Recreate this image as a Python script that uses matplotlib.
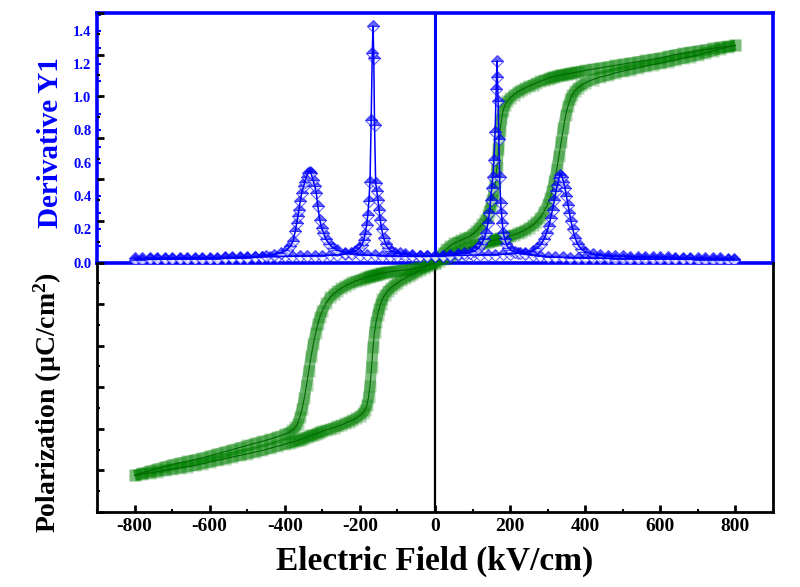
import matplotlib
matplotlib.use('Agg')
import matplotlib.pyplot as plt
from matplotlib.ticker import MultipleLocator, FormatStrFormatter

# ---------------- data ----------------
# field grid (kV/cm) for the P-E loop branches
field = [-800, -780, -760, -740, -720, -700, -680, -660, -640, -620, -600, -580, -560, -540, -520,
         -500, -480, -460, -440, -420, -400, -390, -380, -372, -366, -360, -354, -348, -342, -336,
         -330, -324, -318, -312, -306, -300, -290, -280, -270, -260, -250, -240, -230, -220, -210,
         -200, -192, -186, -181, -177, -173, -169, -165, -161, -157, -153, -149, -145, -140, -134,
         -126, -118, -110, -100, -90, -80, -70, -60, -50, -40, -30, -20, -10, 0,
         10, 20, 30, 40, 50, 60, 70, 80, 90, 100, 110, 118, 126, 134, 140,
         145, 149, 153, 157, 161, 165, 169, 173, 177, 181, 186, 192, 200, 210, 220,
         230, 240, 250, 260, 270, 280, 290, 300, 306, 312, 318, 324, 330, 336, 342,
         348, 354, 360, 366, 372, 380, 390, 400, 420, 440, 460, 480, 500, 520, 540,
         560, 580, 600, 620, 640, 660, 680, 700, 720, 740, 760, 780, 800]

# ascending branch (-800 -> +800)
pol_up = [-25.6, -25.45, -25.3, -25.15, -25.0, -24.85, -24.7, -24.55, -24.4, -24.2, -24.0, -23.8, -23.6, -23.4, -23.2,
          -23.0, -22.8, -22.6, -22.35, -22.1, -21.85, -21.7, -21.6, -21.5, -21.4, -21.3, -21.2, -21.1, -21.0, -20.9,
          -20.8, -20.7, -20.6, -20.5, -20.4, -20.3, -20.15, -20.0, -19.85, -19.7, -19.55, -19.35, -19.15, -18.95, -18.7,
          -18.4, -18.1, -17.7, -17.1, -16.2, -14.8, -12.6, -10.2, -8.4, -7.2, -6.3, -5.6, -5.0, -4.4, -3.9,
          -3.4, -3.05, -2.75, -2.45, -2.15, -1.9, -1.65, -1.4, -1.15, -0.9, -0.65, -0.4, -0.2, 0.0,
          0.2, 0.4, 0.6, 0.8, 1.0, 1.2, 1.4, 1.6, 1.8, 1.95, 2.1, 2.2, 2.3, 2.4, 2.5,
          2.55, 2.6, 2.65, 2.7, 2.75, 2.8, 2.85, 2.9, 2.95, 3.0, 3.05, 3.1, 3.2, 3.35, 3.5,
          3.7, 3.9, 4.2, 4.5, 4.9, 5.4, 6.1, 7.0, 7.7, 8.6, 9.8, 11.2, 12.8, 14.5, 16.2,
          17.7, 18.8, 19.6, 20.2, 20.6, 21.0, 21.3, 21.6, 22.0, 22.3, 22.5, 22.8, 23.0, 23.2, 23.4,
          23.6, 23.8, 23.95, 24.15, 24.35, 24.55, 24.75, 24.95, 25.2, 25.45, 25.7, 25.9, 26.1]

# descending branch (+800 -> -800), listed on the same field grid
pol_down = [-25.6, -25.3, -25.05, -24.8, -24.55, -24.3, -24.1, -23.9, -23.7, -23.5, -23.25, -23.0, -22.75, -22.5, -22.25,
            -22.0, -21.75, -21.5, -21.25, -20.95, -20.65, -20.45, -20.2, -19.8, -19.4, -18.6, -17.6, -16.3, -14.7, -13.0,
            -11.3, -9.8, -8.5, -7.4, -6.5, -5.8, -4.9, -4.2, -3.8, -3.4, -3.1, -2.85, -2.6, -2.4, -2.2,
            -2.05, -1.95, -1.85, -1.75, -1.7, -1.65, -1.6, -1.55, -1.5, -1.45, -1.4, -1.35, -1.3, -1.25, -1.2,
            -1.15, -1.1, -1.05, -1.0, -0.95, -0.9, -0.85, -0.75, -0.65, -0.55, -0.45, -0.3, -0.15, 0.0,
            0.5, 1.1, 1.6, 2.0, 2.3, 2.5, 2.7, 2.9, 3.1, 3.4, 3.8, 4.2, 4.6, 5.1, 5.6,
            6.2, 6.8, 7.5, 8.4, 9.7, 11.5, 13.7, 15.8, 17.2, 18.2, 18.9, 19.4, 19.8, 20.2, 20.5,
            20.75, 21.0, 21.2, 21.4, 21.6, 21.8, 21.95, 22.1, 22.2, 22.3, 22.35, 22.4, 22.5, 22.55, 22.6,
            22.65, 22.7, 22.75, 22.8, 22.85, 22.9, 23.0, 23.1, 23.25, 23.4, 23.55, 23.7, 23.85, 24.0, 24.15,
            24.3, 24.45, 24.6, 24.8, 25.0, 25.15, 25.3, 25.45, 25.6, 25.75, 25.9, 26.0, 26.1]

# derivative of the ascending branch
deriv_up_field = [-800, -780, -760, -740, -720, -700, -680, -660, -640, -620, -600, -580, -560, -540, -520,
                  -500, -480, -460, -440, -420, -400, -380, -360, -340, -320, -300, -280, -260, -240, -225,
                  -212, -202, -195, -190, -186, -182, -179, -176, -173, -170, -167, -165, -163, -161, -158,
                  -155, -152, -149, -146, -142, -137, -131, -124, -116, -106, -94, -80, -60, -40, -20,
                  0, 20, 40, 60, 80, 100, 120, 140, 160, 180, 200, 220, 240, 260, 272,
                  282, 290, 297, 303, 308, 313, 318, 322, 326, 330, 334, 338, 342, 346, 350,
                  354, 358, 362, 367, 373, 380, 390, 400, 420, 440, 460, 480, 500, 520, 540,
                  560, 580, 600, 620, 640, 660, 680, 700, 720, 740, 760, 780, 797]
deriv_up = [0.025, 0.025, 0.026, 0.026, 0.027, 0.027, 0.028, 0.028, 0.029, 0.029, 0.030, 0.030, 0.031, 0.031, 0.032,
            0.032, 0.033, 0.034, 0.035, 0.036, 0.037, 0.038, 0.039, 0.040, 0.041, 0.042, 0.044, 0.046, 0.050, 0.058,
            0.068, 0.085, 0.105, 0.135, 0.175, 0.225, 0.285, 0.375, 0.49, 0.86, 1.27, 1.43, 1.24, 0.83, 0.48,
            0.43, 0.38, 0.32, 0.26, 0.20, 0.15, 0.11, 0.085, 0.07, 0.06, 0.055, 0.05, 0.045, 0.042, 0.040,
            0.040, 0.041, 0.042, 0.043, 0.044, 0.045, 0.046, 0.047, 0.048, 0.050, 0.052, 0.055, 0.060, 0.072, 0.088,
            0.11, 0.14, 0.18, 0.22, 0.27, 0.32, 0.38, 0.43, 0.47, 0.51, 0.53, 0.52, 0.49, 0.45, 0.40,
            0.35, 0.30, 0.25, 0.20, 0.15, 0.11, 0.08, 0.065, 0.050, 0.045, 0.042, 0.040, 0.038, 0.036, 0.035,
            0.034, 0.033, 0.032, 0.031, 0.030, 0.029, 0.028, 0.027, 0.026, 0.025, 0.025, 0.024, 0.024]

# derivative of the descending branch
deriv_down_field = [-800, -780, -760, -740, -720, -700, -680, -660, -640, -620, -600, -580, -560, -540, -520,
                    -500, -480, -460, -450, -430, -410, -395, -385, -378, -372, -368, -365, -362, -359, -355,
                    -350, -346, -342, -338, -334, -330, -325, -320, -316, -312, -307, -302, -297, -290, -281,
                    -272, -260, -240, -220, -200, -180, -160, -140, -120, -100, -80, -60, -40, -20, 0,
                    20, 40, 60, 78, 92, 105, 115, 123, 130, 136, 141, 145, 148, 151, 154,
                    157, 160, 163, 165, 166, 168, 170, 172, 175, 177, 179, 182, 186, 190, 195,
                    202, 212, 225, 240, 260, 280, 300, 320, 340, 360, 380, 400, 420, 440, 460,
                    480, 500, 520, 540, 560, 580, 600, 620, 640, 660, 680, 700, 720, 740, 760, 780, 797]
deriv_down = [0.018, 0.018, 0.019, 0.019, 0.020, 0.020, 0.021, 0.021, 0.022, 0.022, 0.023, 0.024, 0.025, 0.026, 0.027,
              0.029, 0.031, 0.035, 0.040, 0.048, 0.060, 0.075, 0.10, 0.13, 0.19, 0.24, 0.28, 0.32, 0.37, 0.42,
              0.46, 0.49, 0.52, 0.54, 0.55, 0.54, 0.50, 0.46, 0.42, 0.34, 0.26, 0.21, 0.18, 0.14, 0.11,
              0.09, 0.075, 0.06, 0.052, 0.048, 0.045, 0.043, 0.041, 0.040, 0.039, 0.038, 0.037, 0.037, 0.037, 0.038,
              0.040, 0.045, 0.050, 0.055, 0.060, 0.070, 0.085, 0.11, 0.14, 0.18, 0.24, 0.30, 0.38, 0.45, 0.52,
              0.62, 0.79, 1.05, 1.22, 1.12, 0.98, 0.75, 0.52, 0.36, 0.30, 0.24, 0.18, 0.14, 0.11, 0.09,
              0.075, 0.065, 0.055, 0.050, 0.045, 0.040, 0.036, 0.033, 0.031, 0.030, 0.029, 0.028, 0.027, 0.026, 0.025,
              0.024, 0.023, 0.023, 0.022, 0.022, 0.021, 0.021, 0.020, 0.020, 0.019, 0.019, 0.018, 0.018, 0.018, 0.017, 0.017, 0.017]

x_ticks = [-800, -600, -400, -200, 0, 200, 400, 600, 800]
deriv_ticks = [0.0, 0.2, 0.4, 0.6, 0.8, 1.0, 1.2, 1.4]

# ---------------- figure ----------------
plt.rcParams['font.family'] = ['Liberation Serif', 'DejaVu Serif']
plt.rcParams['font.weight'] = 'bold'
plt.rcParams['mathtext.default'] = 'regular'
plt.rcParams['axes.unicode_minus'] = False

fig = plt.figure(figsize=(8, 5.87), dpi=100)
L, R, B, T = 97 / 800, 773 / 800, 1 - 512 / 587, 1 - 13 / 587
W, H = R - L, T - B

ax_in = fig.add_axes([L, B + H / 2, W, H / 2], zorder=1)
ax = fig.add_axes([L, B, W, H], zorder=2)
ax.patch.set_alpha(0)
ax_d = fig.add_axes([L, B + H / 2, W, H / 2], zorder=3)
ax_d.set_axis_off()

XL = (-900, 900)
for a in (ax, ax_in, ax_d):
    a.set_xlim(*XL)
ax.set_ylim(-30, 30)
ax_in.set_ylim(0, 1.51)
ax_d.set_ylim(0, 1.51)

# ---- inset (derivative frame) ----
for s in ax_in.spines.values():
    s.set_color('#0000ff')
    s.set_linewidth(2.6)
ax_in.axvline(0, color='#0000ff', lw=2.2)
ax_in.set_yticks(deriv_ticks)
ax_in.yaxis.set_major_formatter(FormatStrFormatter('%.1f'))
ax_in.yaxis.set_minor_locator(MultipleLocator(0.1))
ax_in.tick_params(axis='y', which='both', direction='in', colors='#0000ff', length=3, width=1.5,
                  labelsize=10.5, pad=4)
ax_in.tick_params(axis='x', which='both', bottom=False, labelbottom=False)
for t in ax_in.get_yticklabels():
    t.set_fontweight('bold')
ax_in.set_ylabel('Derivative Y1', color='#0000ff', fontsize=21, fontweight='bold')
ax_in.yaxis.set_label_coords(-0.049, 0.48)

# ---- main axes ----
ax.spines['top'].set_visible(False)
ax.spines['left'].set_bounds(-30, 0)
ax.spines['right'].set_bounds(-30, 0)
for s in ('left', 'right', 'bottom'):
    ax.spines[s].set_linewidth(2.0)
ax.axvline(0, ymin=0, ymax=0.5, color='black', lw=1.6)
ax.set_xticks(x_ticks)
ax.xaxis.set_minor_locator(MultipleLocator(100))
ax.yaxis.set_major_locator(MultipleLocator(5))
ax.yaxis.set_minor_locator(MultipleLocator(2.5))
ax.tick_params(axis='both', which='major', direction='in', length=5, width=2, labelsize=14)
ax.tick_params(axis='both', which='minor', direction='in', length=2.5, width=1.5)
ax.tick_params(axis='y', which='both', labelleft=False)
ax.tick_params(axis='x', which='major', pad=4)
ax.set_xlabel('Electric Field (kV/cm)', fontsize=24, fontweight='bold', labelpad=8)
ax.set_ylabel('Polarization (\u00b5C/cm$^{2}$)', fontsize=20, fontweight='bold')
ax.yaxis.set_label_coords(-0.049, 0.22)

green = '#008000'
for pol in (pol_up, pol_down):
    ax.plot(field, pol, color=green, lw=8, alpha=0.5, solid_capstyle='butt', zorder=2)
    ax.plot(field, pol, ls='none', marker='s', ms=8, color=green, mec='none', alpha=0.3, zorder=3)
    ax.plot(field, pol, color='#006800', lw=0.8, zorder=4)

# ---- derivative curves ----
blue = '#0000ff'
for fx, dv in ((deriv_up_field, deriv_up), (deriv_down_field, deriv_down)):
    ax_d.plot(fx, dv, ls='none', marker='D', ms=6, fillstyle='top', markerfacecolor=blue,
              markerfacecoloralt='white', markeredgecolor=blue, mew=0.8, alpha=0.6, zorder=3)
    ax_d.plot(fx, dv, color=blue, lw=1.1, zorder=4)

fig.savefig('out.png', dpi=100)
